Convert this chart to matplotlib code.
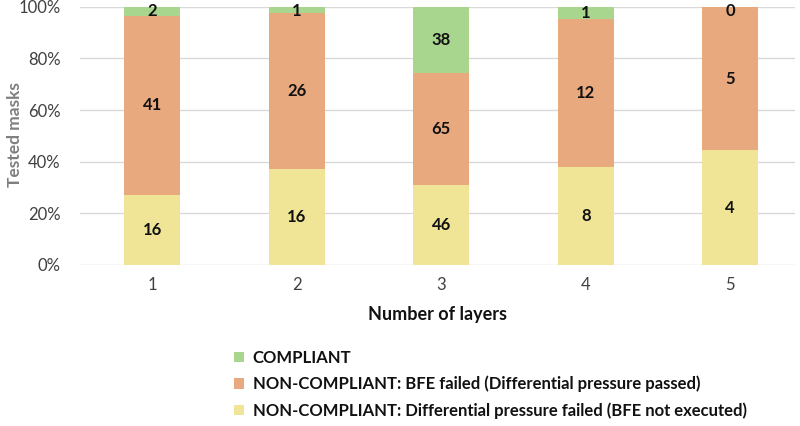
import numpy as np
import matplotlib
matplotlib.use('Agg')
import matplotlib.pyplot as plt
from matplotlib.patches import Patch
from matplotlib.ticker import PercentFormatter

plt.rcParams['font.family'] = ['Lato', 'DejaVu Sans']

# data
layers = ['1', '2', '3', '4', '5']
diff_failed = [16, 16, 46, 8, 4]
bfe_failed = [41, 26, 65, 12, 5]
compliant = [2, 1, 38, 1, 0]

series = [
    ('NON-COMPLIANT: Differential pressure failed (BFE not executed)', diff_failed, '#f0e597'),
    ('NON-COMPLIANT: BFE failed (Differential pressure passed)', bfe_failed, '#e8a97e'),
    ('COMPLIANT', compliant, '#a9d68f'),
]

totals = np.array(diff_failed) + np.array(bfe_failed) + np.array(compliant)

fig = plt.figure(figsize=(8, 4.26), dpi=100)
ax = fig.add_axes([0.1, 0.378, 0.894, 0.606])

x = np.arange(1, len(layers) + 1)
bottom = np.zeros(len(layers))
for name, vals, color in series:
    frac = np.array(vals) / totals
    ax.bar(x, frac, 0.39, bottom=bottom, color=color, zorder=2)
    for xi, b, f, v in zip(x, bottom, frac, vals):
        yc = min(b + f / 2, 0.985)
        ax.text(xi, yc, str(v), ha='center', va='center', fontsize=12,
                fontweight='bold', color='#111111', zorder=3)
    bottom += frac

ax.set_xlim(0.5, 5.45)
ax.set_ylim(0, 1)
ax.set_yticks(np.arange(0, 1.01, 0.2))
ax.yaxis.set_major_formatter(PercentFormatter(1.0, decimals=0))
ax.set_xticks(x)
ax.set_xticklabels(layers)
ax.grid(axis='y', color='#d9d9d9', linewidth=1, zorder=0)
for s in ['top', 'right', 'left', 'bottom']:
    ax.spines[s].set_visible(False)
ax.tick_params(length=0, labelsize=12, colors='#404040', pad=9)
ax.tick_params(axis='y', pad=14)
ax.set_xlabel('Number of layers', fontsize=13, fontweight='bold', color='#111111', labelpad=9)
fig.text(0.019, 0.684, 'Tested masks', rotation=90, ha='center', va='center',
         fontsize=12.5, fontweight='bold', color='#7f7f7f')

handles = [Patch(facecolor=c, label=n) for n, v, c in series[::-1]]
leg = fig.legend(handles=handles, loc='upper left', bbox_to_anchor=(0.293, 0.179),
                 frameon=False, fontsize=12, handlelength=0.6, handleheight=0.6,
                 handletextpad=0.5, labelspacing=0.6, borderaxespad=0, borderpad=0)
for t in leg.get_texts():
    t.set_fontweight('bold')
    t.set_color('#111111')

fig.savefig('out.png', dpi=100, facecolor='white')
plt.close()
